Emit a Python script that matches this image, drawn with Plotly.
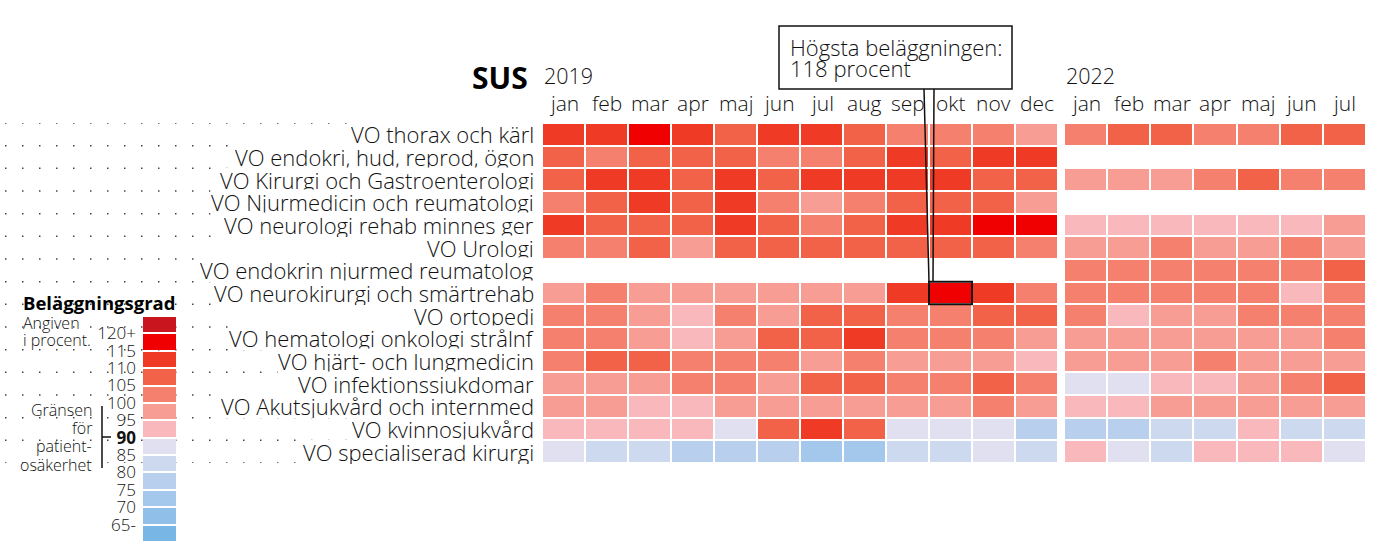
import plotly.graph_objects as go

W, H = 1383, 558

departments = [
    "VO thorax och kärl",
    "VO endokri, hud, reprod, ögon",
    "VO Kirurgi och Gastroenterologi",
    "VO Njurmedicin och reumatologi",
    "VO neurologi rehab minnes ger",
    "VO Urologi",
    "VO endokrin njurmed reumatolog",
    "VO neurokirurgi och smärtrehab",
    "VO ortopedi",
    "VO hematologi onkologi strålnf",
    "VO hjärt- och lungmedicin",
    "VO infektionssjukdomar",
    "VO Akutsjukvård och internmed",
    "VO kvinnosjukvård",
    "VO specialiserad kirurgi",
]

months_2019 = ["jan", "feb", "mar", "apr", "maj", "jun", "jul", "aug", "sep", "okt", "nov", "dec"]
months_2022 = ["jan", "feb", "mar", "apr", "maj", "jun", "jul"]

N = None
values_2019 = [
    [112, 112, 117, 112, 107, 112, 112, 107, 102, 102, 102, 97],
    [107, 102, 107, 107, 107, 102, 102, 107, 112, 107, 112, 112],
    [107, 112, 112, 107, 112, 107, 112, 112, 112, 112, 107, 107],
    [102, 107, 112, 107, 112, 102, 97, 102, 107, 107, 107, 97],
    [112, 107, 107, 107, 112, 107, 102, 107, 112, 112, 117, 117],
    [102, 102, 107, 97, 107, 107, 107, 107, 107, 107, 107, 102],
    [N, N, N, N, N, N, N, N, N, N, N, N],
    [97, 102, 97, 97, 97, 97, 97, 97, 112, 118, 112, 102],
    [102, 102, 97, 92, 102, 97, 107, 107, 102, 102, 107, 107],
    [102, 102, 97, 92, 97, 107, 107, 112, 102, 102, 102, 97],
    [102, 107, 107, 102, 102, 102, 97, 102, 97, 97, 97, 92],
    [97, 97, 97, 102, 102, 97, 107, 107, 102, 102, 107, 102],
    [97, 97, 92, 92, 97, 97, 97, 97, 97, 97, 102, 97],
    [92, 92, 92, 92, 87, 107, 112, 107, 87, 87, 87, 77],
    [87, 82, 82, 77, 77, 77, 72, 72, 82, 82, 87, 82],
]
values_2022 = [
    [102, 107, 107, 102, 102, 107, 107],
    [N, N, N, N, N, N, N],
    [97, 97, 97, 102, 107, 102, 102],
    [N, N, N, N, N, N, N],
    [92, 92, 92, 92, 92, 92, 97],
    [97, 97, 102, 97, 97, 102, 97],
    [102, 102, 102, 102, 102, 102, 107],
    [102, 102, 102, 102, 102, 92, 102],
    [102, 92, 97, 97, 102, 102, 102],
    [97, 97, 97, 97, 97, 97, 102],
    [97, 97, 97, 102, 97, 97, 97],
    [87, 87, 92, 92, 97, 102, 107],
    [92, 92, 97, 97, 97, 97, 97],
    [77, 77, 82, 82, 92, 82, 82],
    [92, 87, 82, 92, 92, 92, 87],
]

# colour bins, from lowest (<65) to highest (120+), 5 units each between 60 and 125
bin_colors = ["#78b6e6", "#90bfea", "#a3c8ec", "#b8cfee", "#ccd9ef", "#e0e0f0",
              "#f9b9bc", "#f89d94", "#f5806d", "#f26249", "#ef3b26", "#f00000", "#c8151e"]
legend_values = [122.5, 117.5, 112.5, 107.5, 102.5, 97.5, 92.5, 87.5, 82.5, 77.5, 72.5, 67.5, 62.5]
legend_labels = ["120+", "115", "110", "105", "100", "95", "<b>90</b>", "85", "80", "75", "70", "65-"]
ZMIN, ZMAX = 60, 125

n = len(bin_colors)
colorscale = []
for i, c in enumerate(bin_colors):
    colorscale.append([i / n, c])
    colorscale.append([(i + 1) / n, c])

def px(x):
    return x / W

def py(y):
    return 1 - y / H

FONT = "Open Sans"
TXT = "#111111"
GRID_TOP, GRID_BOT = 123, 463
ROW_PX = (GRID_BOT - GRID_TOP) / len(departments)

fig = go.Figure()
fig.add_trace(go.Heatmap(
    z=values_2019, x=list(range(len(months_2019))), y=list(range(len(departments))),
    colorscale=colorscale, zmin=ZMIN, zmax=ZMAX, showscale=False, xgap=2, ygap=2,
    hoverongaps=False, xaxis="x", yaxis="y"))
fig.add_trace(go.Heatmap(
    z=values_2022, x=list(range(len(months_2022))), y=list(range(len(departments))),
    colorscale=colorscale, zmin=ZMIN, zmax=ZMAX, showscale=False, xgap=2, ygap=2,
    hoverongaps=False, xaxis="x2", yaxis="y"))
fig.add_trace(go.Heatmap(
    z=[[v] for v in legend_values], x=[0], y=list(range(len(legend_values))),
    colorscale=colorscale, zmin=ZMIN, zmax=ZMAX, showscale=False, ygap=2,
    xaxis="x3", yaxis="y3"))

hidden = dict(visible=False, showgrid=False, zeroline=False, fixedrange=True)
fig.update_layout(
    width=W, height=H, margin=dict(l=0, r=0, t=0, b=0),
    paper_bgcolor="white", plot_bgcolor="white", showlegend=False,
    font=dict(family=FONT, color=TXT),
    xaxis=dict(domain=[px(542), px(1058)], range=[-0.5, len(months_2019) - 0.5], **hidden),
    xaxis2=dict(domain=[px(1064), px(1366)], range=[-0.5, len(months_2022) - 0.5], **hidden),
    yaxis=dict(domain=[py(GRID_BOT), py(GRID_TOP)], range=[len(departments) - 0.5, -0.5], **hidden),
    xaxis3=dict(domain=[px(143), px(176)], range=[-0.5, 0.5], anchor="y3", **hidden),
    yaxis3=dict(domain=[py(542), py(316)], range=[len(legend_values) - 0.5, -0.5],
                anchor="x3", showgrid=False, zeroline=False, showline=False, ticks="",
                tickvals=[i + 0.5 for i in range(len(legend_labels))], ticktext=legend_labels,
                tickfont=dict(size=17, family=FONT, color=TXT, weight=300), ticklabelstandoff=6,
                fixedrange=True),
)

ann = []
shapes = []

# dotted guide lines at the row boundaries
for i in range(len(departments) + 1):
    shapes.append(dict(type="line", xref="paper", yref="y", x0=px(5), x1=px(541),
                       y0=i - 0.5, y1=i - 0.5, layer="below",
                       line=dict(color="#444444", width=1.5, dash="1.5px,15.5px")))

# row labels
for i, d in enumerate(departments):
    ann.append(dict(text=d, xref="paper", yref="y", x=px(535), y=i, xanchor="right",
                    yanchor="middle", showarrow=False, bgcolor="white", height=24,
                    borderpad=0, font=dict(size=22, family=FONT, color=TXT, weight=300)))

# month labels
for j, m in enumerate(months_2019):
    ann.append(dict(text=m, xref="x", yref="paper", x=j, y=py(103), showarrow=False,
                    xanchor="center", yanchor="middle", font=dict(size=21, family=FONT, weight=300)))
for j, m in enumerate(months_2022):
    ann.append(dict(text=m, xref="x2", yref="paper", x=j, y=py(103), showarrow=False,
                    xanchor="center", yanchor="middle", font=dict(size=21, family=FONT, weight=300)))

ann.append(dict(text="2019", xref="x", yref="paper", x=-0.5, y=py(75), xanchor="left",
                yanchor="middle", showarrow=False, font=dict(size=21.5, family=FONT, weight=300)))
ann.append(dict(text="2022", xref="x2", yref="paper", x=-0.5, y=py(75), xanchor="left",
                yanchor="middle", showarrow=False, font=dict(size=21.5, family=FONT, weight=300)))
ann.append(dict(text="<b>SUS</b>", xref="paper", yref="paper", x=px(530), y=py(77),
                xanchor="right", yanchor="middle", showarrow=False,
                font=dict(size=30, family=FONT, color="#000000")))

# callout
shapes.append(dict(type="rect", xref="paper", yref="paper", x0=px(779), x1=px(1012),
                   y0=py(89), y1=py(26), fillcolor="white",
                   line=dict(color=TXT, width=1.5)))
ann.append(dict(text="Högsta beläggningen:", xref="paper", yref="paper", x=px(788), y=py(47),
                xanchor="left", yanchor="middle", showarrow=False,
                font=dict(size=22, family=FONT, color=TXT, weight=300)))
ann.append(dict(text="118 procent", xref="paper", yref="paper", x=px(788), y=py(68),
                xanchor="left", yanchor="middle", showarrow=False,
                font=dict(size=22, family=FONT, color=TXT, weight=300)))
cell_top = GRID_TOP + 7 * ROW_PX
shapes.append(dict(type="line", xref="paper", yref="paper", x0=px(924), y0=py(89), x1=px(929),
                   y1=py(cell_top), line=dict(color=TXT, width=1.5)))
shapes.append(dict(type="line", xref="paper", yref="paper", x0=px(934), y0=py(89), x1=px(933),
                   y1=py(cell_top), line=dict(color=TXT, width=1.5)))
shapes.append(dict(type="rect", xref="x", yref="y", x0=8.5, x1=9.5, y0=6.5, y1=7.5,
                   line=dict(color=TXT, width=2)))

# legend texts
ann.append(dict(text="<b>Beläggningsgrad</b>", xref="paper", yref="paper", x=px(21), y=py(302),
                xanchor="left", yanchor="middle", showarrow=False,
                font=dict(size=18.5, family=FONT, color="#000000")))
for txt, yy in [("Angiven", 323), ("i procent.", 340)]:
    ann.append(dict(text=txt, xref="paper", yref="paper", x=px(21), y=py(yy),
                    xanchor="left", yanchor="middle", showarrow=False,
                    font=dict(size=16, family=FONT, weight=300)))
for txt, yy in [("Gränsen", 410), ("för", 428), ("patient-", 446), ("osäkerhet", 465)]:
    ann.append(dict(text=txt, xref="paper", yref="paper", x=px(94), y=py(yy),
                    xanchor="right", yanchor="middle", showarrow=False,
                    font=dict(size=16, family=FONT, weight=300)))
shapes.append(dict(type="line", xref="paper", yref="paper", x0=px(102), x1=px(102),
                   y0=py(406), y1=py(468), line=dict(color=TXT, width=1.5)))
shapes.append(dict(type="line", xref="paper", yref="paper", x0=px(102), x1=px(111),
                   y0=py(437), y1=py(437), line=dict(color=TXT, width=1.5)))

fig.update_layout(annotations=ann, shapes=shapes)
fig.write_html("out.html", config={"displayModeBar": False},
               post_script="document.body.style.margin='0px';")
